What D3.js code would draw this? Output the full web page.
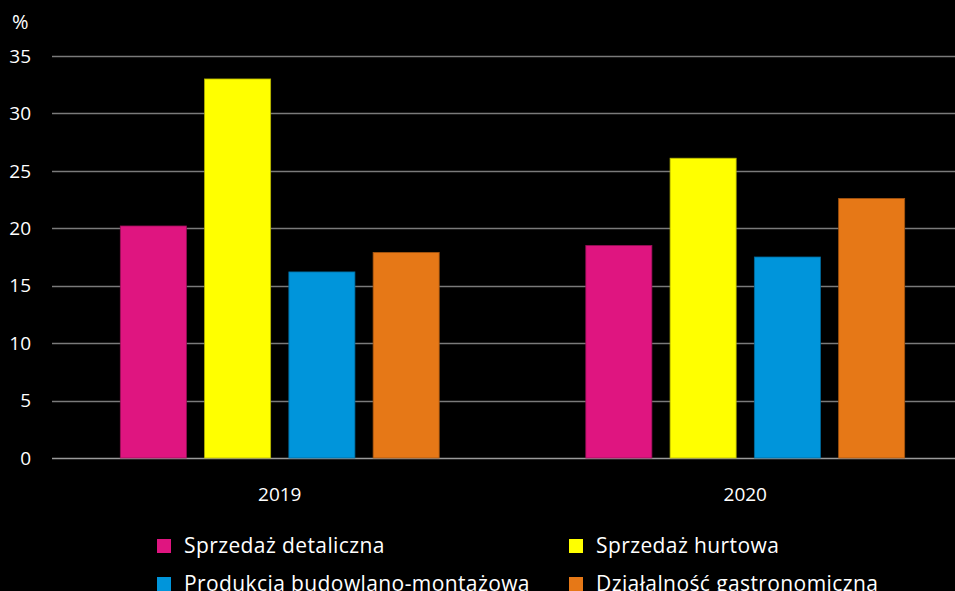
<!DOCTYPE html>
<html>
<head>
<meta charset="utf-8">
<script src="https://cdn.jsdelivr.net/npm/d3@7"></script>
<style>
  html, body { margin: 0; padding: 0; background: #000; }
  svg { display: block; }
</style>
</head>
<body>
<div id="vis"></div>
<script>
var width = 955;
var height = 591;

var years = ["2019", "2020"];
var series = ["Sprzedaż detaliczna", "Sprzedaż hurtowa", "Produkcja budowlano-montażowa", "Działalność gastronomiczna"];
var colors = ["#df1580", "#ffff00", "#0095db", "#e67817"];
var strokes = ["#9a1058", "#b5b500", "#006a9c", "#a3540f"];
var values2019 = [20.2, 33.0, 16.2, 17.9];
var values2020 = [18.5, 26.1, 17.5, 22.6];
var yTicks = [0, 5, 10, 15, 20, 25, 30, 35];

var valuesByYear = {"2019": values2019, "2020": values2020};
var font = "'Open Sans', 'Noto Sans', sans-serif";

var svg = d3.select("#vis")
  .append("svg")
  .attr("width", width)
  .attr("height", height)
  .style("background", "#000");

var y = d3.scaleLinear().domain([0, 35]).range([458, 56]);

var x0 = d3.scaleBand().domain(years).range([47, 978]).padding(0);
var x1 = d3.scaleBand().domain(series).range([0, x0.bandwidth()])
  .paddingInner(0.216).paddingOuter(0.87);

// gridlines
svg.append("g")
  .selectAll("line")
  .data(yTicks)
  .enter()
  .append("line")
  .attr("x1", 52)
  .attr("x2", width)
  .attr("y1", d => Math.round(y(d)) + 0.5)
  .attr("y2", d => Math.round(y(d)) + 0.5)
  .attr("stroke", d => d === 0 ? "#9a9a9a" : "#7a7a7a")
  .attr("stroke-width", 1.3);

// y tick labels
svg.append("g")
  .style("font", "19px " + font)
  .attr("fill", "#fff")
  .selectAll("text")
  .data(yTicks)
  .enter()
  .append("text")
  .attr("x", 31)
  .attr("y", d => y(d))
  .attr("dy", "0.35em")
  .attr("text-anchor", "end")
  .text(d => d);

svg.append("text")
  .attr("x", 12)
  .attr("y", 22)
  .attr("dy", "0.35em")
  .attr("fill", "#fff")
  .style("font", "20px " + font)
  .text("%");

// bars
var groups = svg.append("g")
  .selectAll("g")
  .data(years)
  .enter()
  .append("g")
  .attr("transform", d => `translate(${x0(d)},0)`);

groups.selectAll("rect")
  .data(yr => valuesByYear[yr].map((v, i) => ({key: series[i], value: v, i: i})))
  .enter()
  .append("rect")
  .attr("x", d => x1(d.key))
  .attr("y", d => y(d.value))
  .attr("width", x1.bandwidth())
  .attr("height", d => y(0) - y(d.value))
  .attr("fill", d => colors[d.i])
  .attr("stroke", d => strokes[d.i])
  .attr("stroke-width", 0.8);

// x labels
svg.append("g")
  .style("font", "19px " + font)
  .attr("fill", "#fff")
  .selectAll("text")
  .data(years)
  .enter()
  .append("text")
  .attr("x", d => x0(d) + x0.bandwidth() / 2)
  .attr("y", 494)
  .attr("dy", "0.35em")
  .attr("text-anchor", "middle")
  .text(d => d);

// legend
var legendPos = [[157, 546], [569, 546], [157, 584], [569, 584]];
var legend = svg.append("g")
  .selectAll("g")
  .data(series)
  .enter()
  .append("g")
  .attr("transform", (d, i) => `translate(${legendPos[i][0]},${legendPos[i][1]})`);

legend.append("rect")
  .attr("x", 0)
  .attr("y", -7)
  .attr("width", 14)
  .attr("height", 14)
  .attr("fill", (d, i) => colors[i]);

legend.append("text")
  .attr("x", 27)
  .attr("y", 0)
  .attr("dy", "0.35em")
  .attr("fill", "#fff")
  .style("font", "21px " + font)
  .style("letter-spacing", "0.4px")
  .text(d => d);
</script>
</body>
</html>
